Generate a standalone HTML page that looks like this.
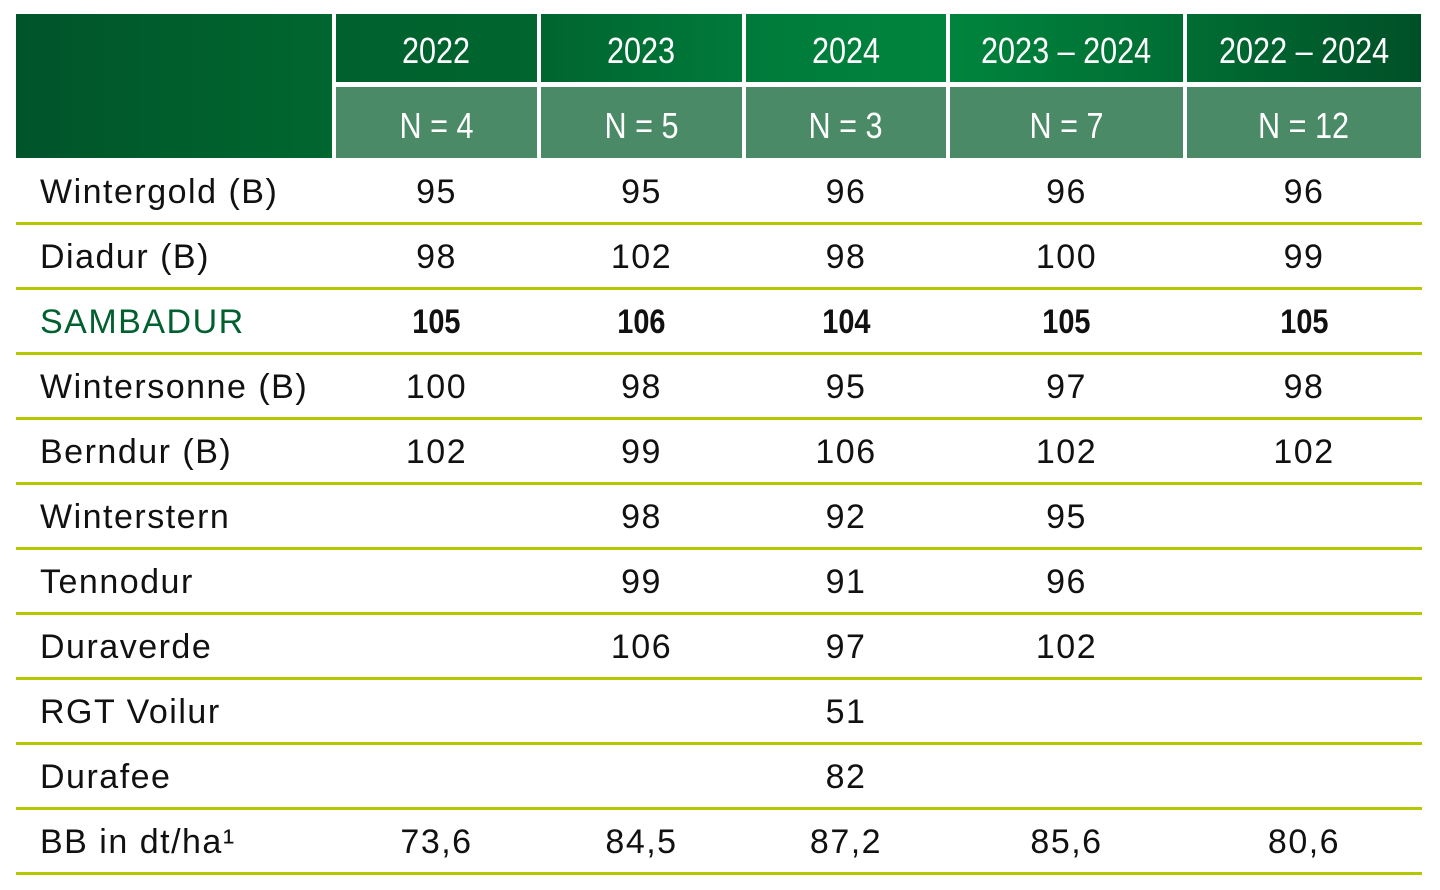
<!DOCTYPE html>
<html><head><meta charset="utf-8"><style>
body{margin:0;width:1440px;height:890px;background:#fff;position:relative;overflow:hidden;font-family:"Liberation Sans",sans-serif}
.h{position:absolute;color:#fff;display:flex;align-items:center;justify-content:center;font-size:36px}
.h span{display:inline-block;transform:scaleX(0.85) translateY(3px)}
.t{position:absolute;font-size:34px;letter-spacing:1.5px;color:#111;line-height:65px;height:65px}
.c{text-align:center}
.ln{position:absolute;left:16px;width:1406px;height:3px;background:#b4c800}
</style></head><body>
<div style="position:absolute;left:16px;top:14px;width:316px;height:144px;background:linear-gradient(90deg,#00542a,#00672f)"></div>
<script>
const cols=[[336,201],[541,201],[746,200],[950,233],[1187,234]];
const years=["2022","2023","2024","2023 – 2024","2022 – 2024"];
const ns=["N = 4","N = 5","N = 3","N = 7","N = 12"];
const names=["Wintergold (B)","Diadur (B)","SAMBADUR","Wintersonne (B)","Berndur (B)","Winterstern","Tennodur","Duraverde","RGT Voilur","Durafee","BB in dt/ha¹"];
const vals=[["95","95","96","96","96"],["98","102","98","100","99"],["105","106","104","105","105"],["100","98","95","97","98"],["102","99","106","102","102"],["","98","92","95",""],["","99","91","96",""],["","106","97","102",""],["","","51","",""],["","","82","",""],["73,6","84,5","87,2","85,6","80,6"]];
const topBg=["#00652f","#007a3a","#00843d","#006d33","#005027"];
const b=document.body;
cols.forEach((c,i)=>{
 let d=document.createElement('div');d.className='h';
 
 
 d.style.cssText=`left:${c[0]}px;top:14px;width:${c[1]}px;height:68px;background:linear-gradient(90deg,${i?topBg[i-1]:'#00612e'},${topBg[i]})`;
 d.innerHTML='<span>'+years[i]+'</span>';b.appendChild(d);
 let e=document.createElement('div');e.className='h';
 
 
 e.style.cssText=`left:${c[0]}px;top:87px;width:${c[1]}px;height:71px;background:#4b8a66`;
 e.innerHTML='<span>'+ns[i]+'</span>';b.appendChild(e);
});
names.forEach((n,r)=>{
 const y=160+r*65;
 let d=document.createElement('div');d.className='t';
 
 
 d.style.left='40px';d.style.top=y+'px';d.textContent=n;
 if(r==2){d.style.color='#00602f';}
 b.appendChild(d);
 vals[r].forEach((v,i)=>{
  let e=document.createElement('div');e.className='t c';
  
  
  e.style.left=cols[i][0]+'px';e.style.width=cols[i][1]+'px';e.style.top=y+'px';
  e.textContent=v;
  if(r==2){e.style.fontWeight='bold';e.style.letterSpacing='0';e.innerHTML='<span style="display:inline-block;transform:scaleX(0.85)">'+v+'</span>';}
  b.appendChild(e);
 });
 let l=document.createElement('div');l.className='ln';
 
 
 l.style.top=(y+62)+'px';b.appendChild(l);
});
</script>
</body></html>
